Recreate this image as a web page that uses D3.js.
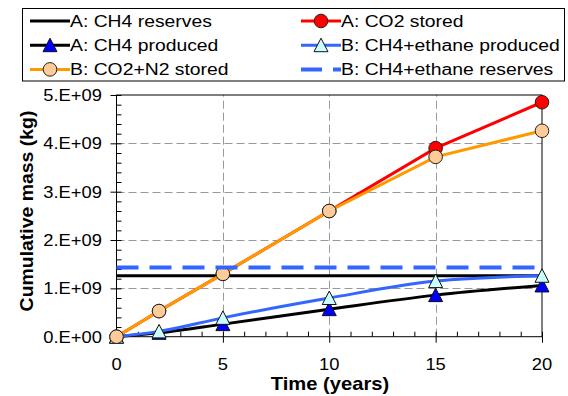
<!DOCTYPE html>
<html>
<head>
<meta charset="utf-8">
<script src="https://cdn.jsdelivr.net/npm/d3@7"></script>
<style>
  body { margin: 0; background: #fff; }
  svg { display: block; font-family: Arial, "Liberation Sans", sans-serif; }
</style>
</head>
<body>
<div class="canvas"></div>
<script>
// data
const years = [0, 2, 5, 10, 15, 20];
const reserveYears = [0, 20];
const aCH4Reserves = [1.26e9, 1.26e9];
const aCO2Stored = [0, 0.53e9, 1.30e9, 2.60e9, 3.90e9, 4.85e9];
const aCH4Produced = [0, 0.08e9, 0.26e9, 0.57e9, 0.86e9, 1.06e9];
const bCH4Produced = [0, 0.11e9, 0.39e9, 0.80e9, 1.15e9, 1.26e9];
const bCO2Stored = [0, 0.53e9, 1.30e9, 2.60e9, 3.72e9, 4.26e9];
const bCH4Reserves = [1.43e9, 1.43e9];

const xTicks = [0, 5, 10, 15, 20];
const yTicks = [0, 1e9, 2e9, 3e9, 4e9, 5e9];
const legendNames = ["A: CH4 reserves", "A: CO2 stored", "A: CH4 produced",
  "B: CH4+ethane produced", "B: CO2+N2 stored", "B: CH4+ethane reserves"];

const width = 568;
const height = 396;

const svg = d3.select(".canvas").append("svg")
  .attr("width", width).attr("height", height);

const x = d3.scaleLinear().domain([0, 20]).range([116.5, 542]);
const y = d3.scaleLinear().domain([0, 5e9]).range([336.7, 95]);

// text in the reference is a bit wider than plain Arial
function label(g, px, py, str, size, sx, anchor, weight, rot) {
  return g.append("text")
    .attr("transform", `translate(${px},${py})` + (rot ? ` rotate(${rot})` : "") + ` scale(${sx},1)`)
    .attr("text-anchor", anchor)
    .attr("font-size", size)
    .attr("font-weight", weight || "normal")
    .attr("fill", "#000")
    .text(str);
}

function sci(d) {
  if (d === 0) return "0.E+00";
  const e = Math.floor(Math.log10(d));
  return (d / Math.pow(10, e)) + ".E+" + String(e).padStart(2, "0");
}

// gridlines
const grid = svg.append("g").attr("stroke", "#999").attr("stroke-width", 1)
  .attr("stroke-dasharray", "8,4");
grid.selectAll("line.h").data(yTicks.slice(1, -1)).join("line")
  .attr("x1", x(0)).attr("x2", x(20))
  .attr("y1", d => Math.round(y(d)) + 0.5).attr("y2", d => Math.round(y(d)) + 0.5);
grid.selectAll("line.v").data(xTicks.slice(1, -1)).join("line")
  .attr("x1", d => Math.round(x(d)) + 0.5).attr("x2", d => Math.round(x(d)) + 0.5)
  .attr("y1", y(0)).attr("y2", y(5e9));

// frame
svg.append("rect")
  .attr("x", x(0)).attr("y", y(5e9))
  .attr("width", x(20) - x(0)).attr("height", y(0) - y(5e9))
  .attr("fill", "none").attr("stroke", "#000").attr("stroke-width", 1);

// axes: minor ticks inside, major ticks outside
svg.append("g").attr("transform", `translate(${x(0)},0)`)
  .call(d3.axisRight(y).tickValues(d3.range(0, 5.01e9, 0.2e9)).tickSize(5).tickFormat(""))
  .call(g => g.select(".domain").remove());
svg.append("g").attr("transform", `translate(${x(0)},0)`)
  .call(d3.axisLeft(y).tickValues(yTicks).tickSize(6).tickFormat(""))
  .call(g => g.select(".domain").remove());
svg.append("g").attr("transform", `translate(0,${y(0)})`)
  .call(d3.axisTop(x).tickValues(d3.range(0, 21, 1)).tickSize(5).tickFormat(""))
  .call(g => g.select(".domain").remove());
svg.append("g").attr("transform", `translate(0,${y(0)})`)
  .call(d3.axisBottom(x).tickValues(xTicks).tickSize(6).tickFormat(""))
  .call(g => g.select(".domain").remove());

// tick labels
yTicks.forEach(d => label(svg, 102, y(d) + 6, sci(d), 17, 1.08, "end"));
xTicks.forEach(d => label(svg, x(d), 370, d, 17, 1.08, "middle"));

// axis titles
label(svg, 330, 390, "Time (years)", 18, 1.12, "middle", "bold");
label(svg, 33, 211, "Cumulative mass (kg)", 18, 1.08, "middle", "bold", -90);

// series
const line = d3.line().x(d => x(d[0])).y(d => y(d[1]));
const smooth = d3.line().x(d => x(d[0])).y(d => y(d[1])).curve(d3.curveMonotoneX);
const tri = "M0,-7L7,6.5L-7,6.5Z";

const series = [
  { xs: reserveYears, ys: aCH4Reserves, color: "#000", w: 3, gen: line },
  { xs: years, ys: aCO2Stored, color: "#ff0000", w: 3, gen: line, marker: "circle", fill: "#ff0000" },
  { xs: years, ys: aCH4Produced, color: "#000", w: 3, gen: smooth, marker: "tri", fill: "#0000ff" },
  { xs: years, ys: bCH4Produced, color: "#3366ff", w: 3, gen: smooth, marker: "tri", fill: "#ccffff" },
  { xs: years, ys: bCO2Stored, color: "#ff9900", w: 3, gen: line, marker: "circle", fill: "#ffcc99" },
  { xs: reserveYears, ys: bCH4Reserves, color: "#3366ff", w: 4, gen: line, dash: "22,11" }
];

function drawMarker(g, kind, fill, px, py) {
  if (kind === "circle") {
    g.append("circle").attr("cx", px).attr("cy", py).attr("r", 6.8)
      .attr("fill", fill).attr("stroke", "#222").attr("stroke-width", 1);
  } else {
    g.append("path").attr("d", tri).attr("transform", `translate(${px},${py})`)
      .attr("fill", fill).attr("stroke", "#111").attr("stroke-width", 1);
  }
}

series.forEach(s => {
  const pts = s.xs.map((v, i) => [v, s.ys[i]]);
  const g = svg.append("g");
  g.append("path").attr("d", s.gen(pts))
    .attr("fill", "none").attr("stroke", s.color).attr("stroke-width", s.w)
    .attr("stroke-dasharray", s.dash || null);
  if (s.marker) pts.forEach(p => drawMarker(g, s.marker, s.fill, x(p[0]), y(p[1])));
});

// legend
const legend = svg.append("g");
legend.append("rect").attr("x", 22.5).attr("y", 8.5).attr("width", 542).attr("height", 72.5)
  .attr("fill", "#fff").attr("stroke", "#000").attr("stroke-width", 1);
series.forEach((s, i) => {
  const col = i % 2;
  const row = Math.floor(i / 2);
  const lx = col === 0 ? 30 : 301;
  const ly = 21 + row * 24.2;
  legend.append("line").attr("x1", lx).attr("x2", lx + 40).attr("y1", ly).attr("y2", ly)
    .attr("stroke", s.color).attr("stroke-width", s.w).attr("stroke-dasharray", s.dash ? "21,11" : null);
  if (s.marker) drawMarker(legend, s.marker, s.fill, lx + 20, ly);
  label(legend, lx + 40, ly + 6, legendNames[i], 16.4, 1.18, "start");
});
</script>
</body>
</html>
